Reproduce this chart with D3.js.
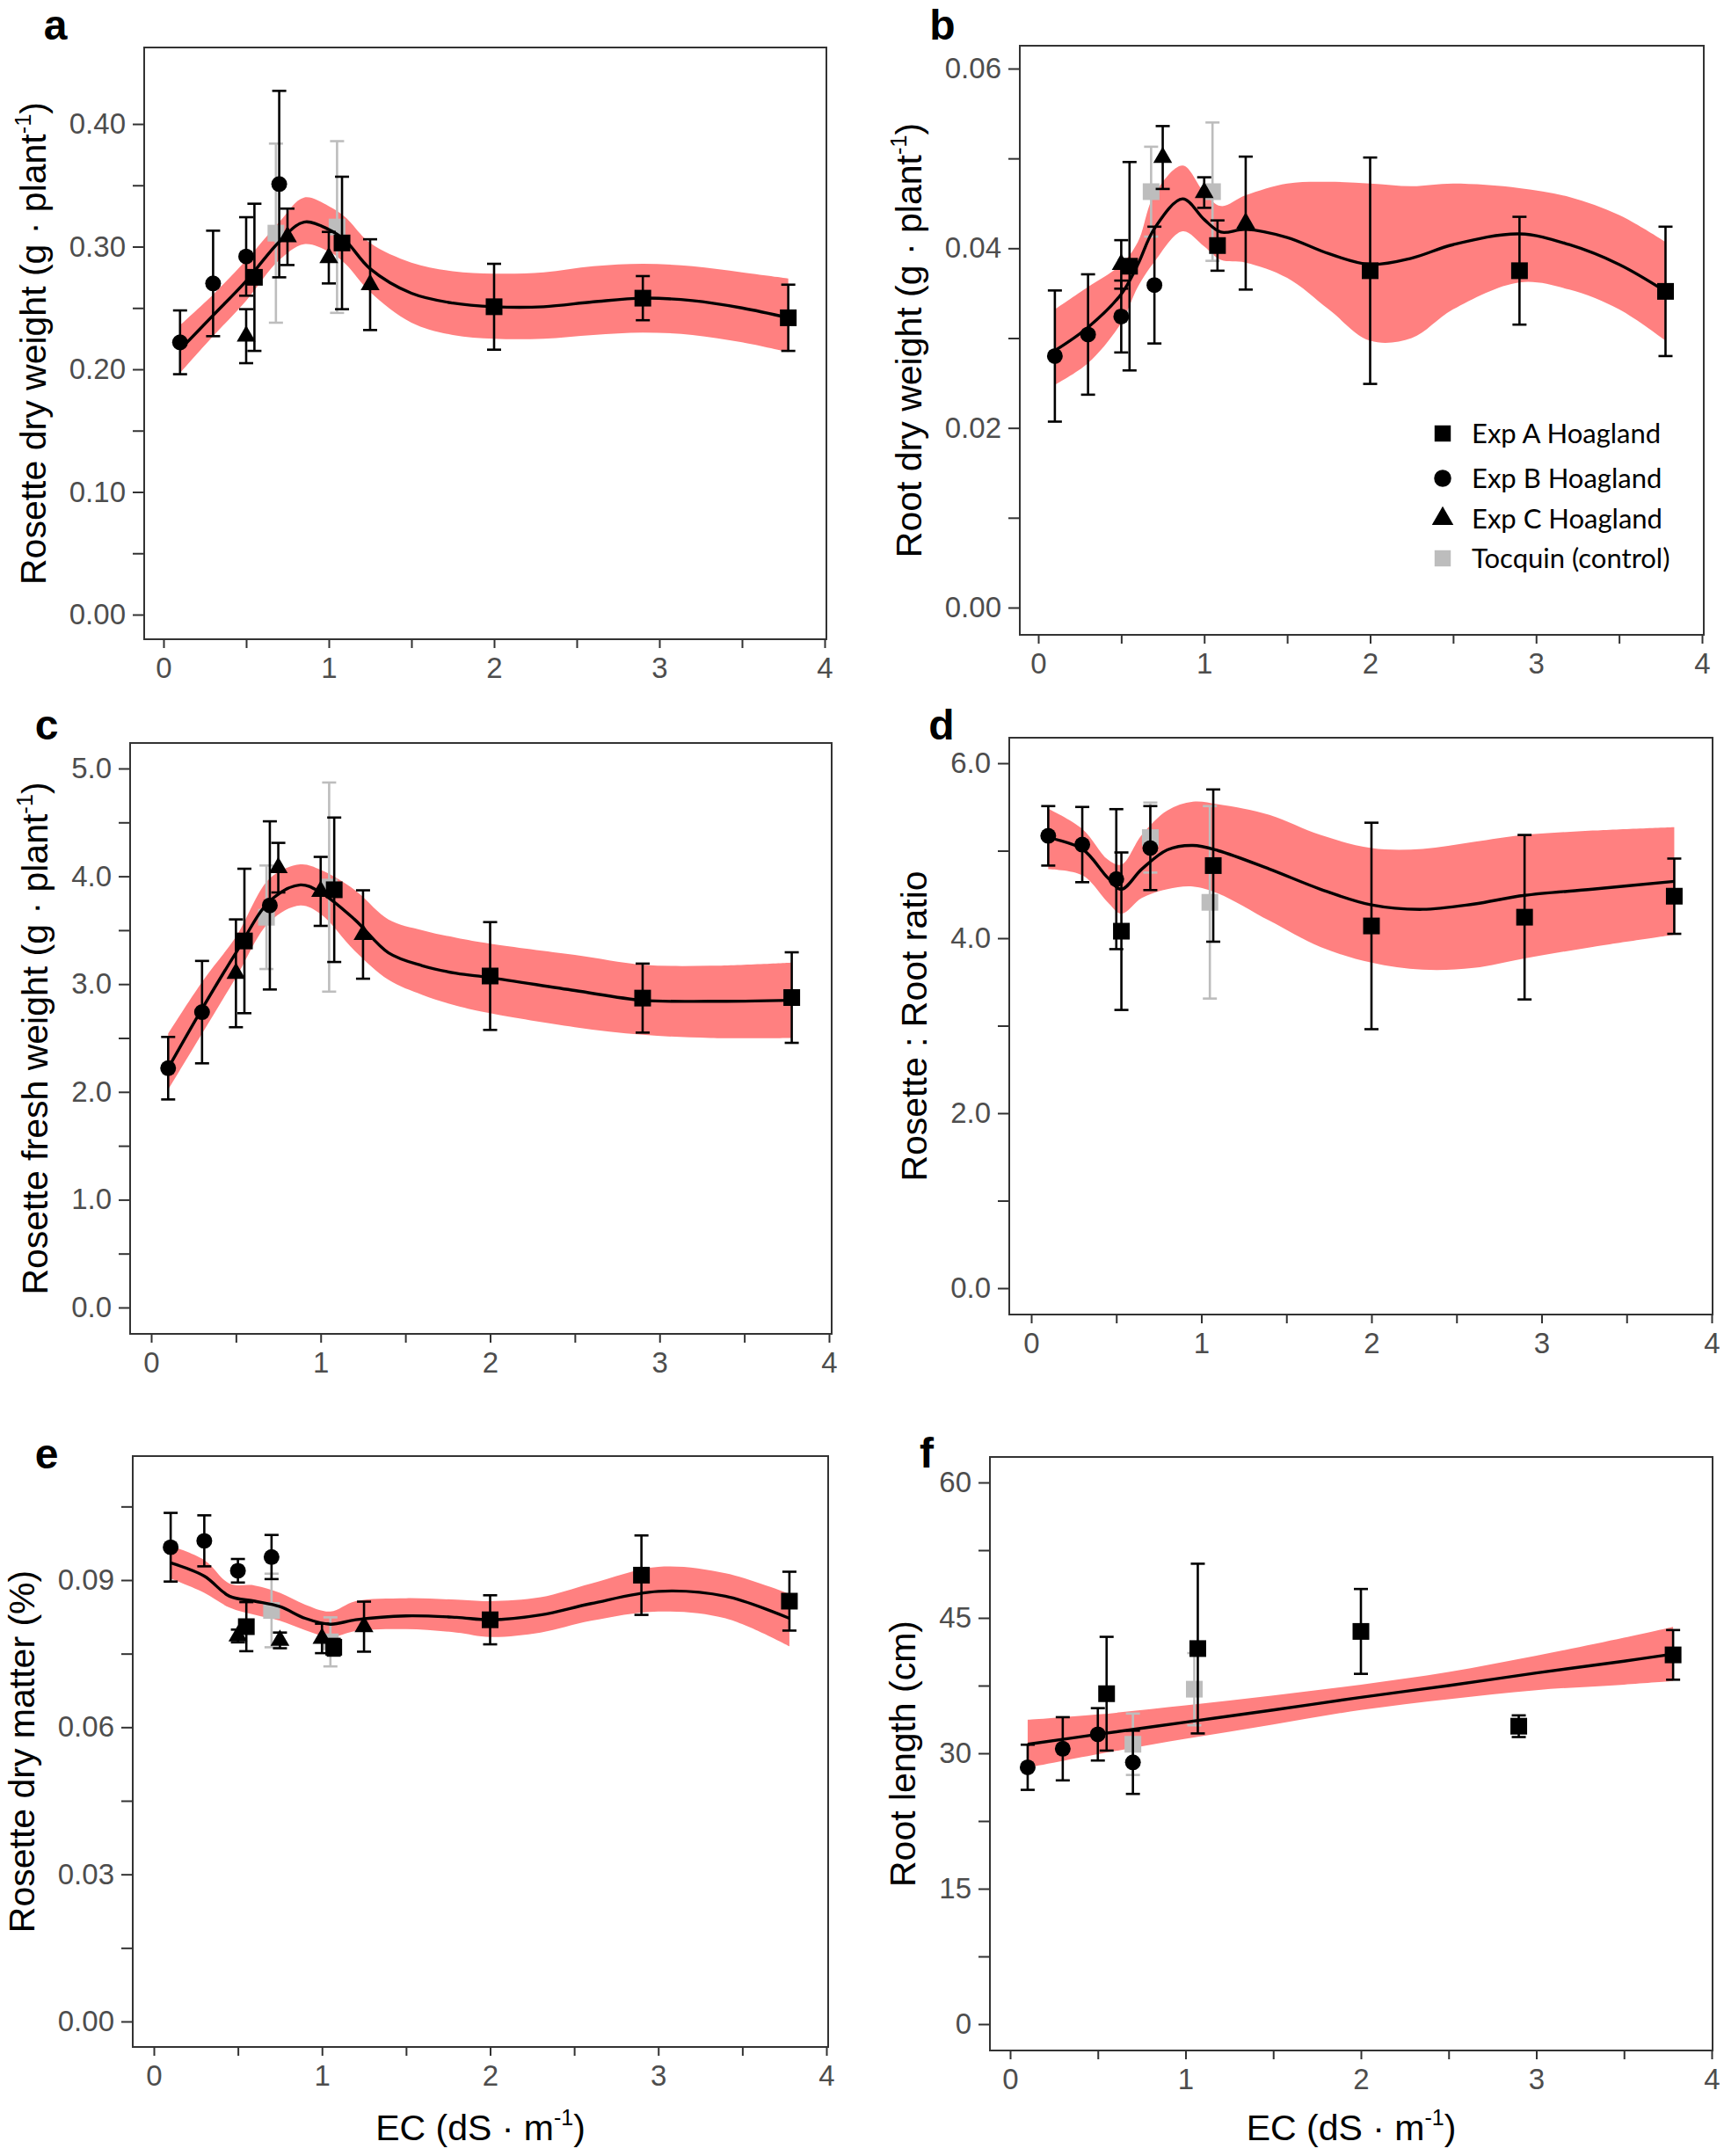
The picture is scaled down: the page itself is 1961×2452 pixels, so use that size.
<!DOCTYPE html>
<html><head><meta charset="utf-8">
<script src="https://cdn.jsdelivr.net/npm/d3@7"></script>
<style>body{margin:0;background:#fff}svg{display:block}</style>
</head><body>
<svg id="c" width="1961" height="2452"></svg>
<script>
// ---------- DATA: [EC, mean, error] ----------
// Panel a – Rosette dry weight
const aExpA = [[0.55,0.275,0.060],[1.08,0.303,0.054],[2.0,0.251,0.035],[2.9,0.258,0.018],[3.78,0.242,0.027]];
const aExpB = [[0.1,0.222,0.026],[0.3,0.270,0.043],[0.5,0.292,0.032],[0.7,0.351,0.076]];
const aExpC = [[0.5,0.227,0.022],[0.75,0.308,0.023],[1.0,0.291,0.021],[1.25,0.269,0.037]];
const aToc  = [[0.68,0.311,0.073],[1.05,0.316,0.070]];
const aFitX = [0.1,0.3,0.5,0.7,0.85,1.0,1.1,1.25,1.5,1.75,2.0,2.3,2.6,2.9,3.2,3.5,3.78];
const aFit  = [0.216,0.244,0.272,0.304,0.320,0.314,0.305,0.282,0.262,0.254,0.251,0.251,0.255,0.258,0.256,0.250,0.242];
const aLo   = [0.197,0.227,0.256,0.289,0.302,0.296,0.286,0.263,0.238,0.228,0.225,0.225,0.228,0.230,0.228,0.222,0.214];
const aHi   = [0.236,0.261,0.289,0.320,0.340,0.333,0.324,0.303,0.287,0.280,0.278,0.279,0.284,0.286,0.284,0.279,0.274];

// Panel b – Root dry weight
const bExpA = [[0.55,0.0380,0.0116],[1.08,0.0403,0.0028],[2.0,0.0375,0.0126],[2.9,0.0375,0.0060],[3.78,0.0352,0.0072]];
const bExpB = [[0.1,0.0280,0.0073],[0.3,0.0304,0.0067],[0.5,0.0324,0.0040],[0.7,0.0359,0.0065]];
const bExpC = [[0.5,0.0382,0.0027],[0.75,0.0501,0.0035],[1.0,0.0462,0.0017],[1.25,0.0428,0.0074]];
const bToc  = [[0.68,0.0463,0.0050],[1.05,0.0463,0.0077]];
const bFitX = [0.1,0.3,0.5,0.6,0.7,0.87,1.0,1.1,1.25,1.5,1.75,2.0,2.25,2.5,2.9,3.2,3.5,3.78];
const bFit  = [0.0286,0.0312,0.0349,0.0382,0.0422,0.0455,0.0432,0.0418,0.0421,0.0412,0.0394,0.0382,0.0389,0.0404,0.0416,0.0404,0.0382,0.0352];
const bLo   = [0.0248,0.0272,0.0317,0.0357,0.0385,0.0419,0.0402,0.0387,0.0384,0.0367,0.0332,0.0297,0.0300,0.0332,0.0362,0.0354,0.0332,0.0297];
const bHi   = [0.0332,0.0357,0.0382,0.0407,0.0460,0.0492,0.0462,0.0447,0.0459,0.0472,0.0474,0.0472,0.0469,0.0472,0.0467,0.0457,0.0437,0.0407];

// Panel c – Rosette fresh weight
const cExpA = [[0.55,3.40,0.67],[1.08,3.875,0.67],[2.0,3.075,0.50],[2.9,2.87,0.32],[3.78,2.875,0.42]];
const cExpB = [[0.1,2.22,0.29],[0.3,2.74,0.475],[0.7,3.73,0.78]];
const cExpC = [[0.5,3.10,0.50],[0.75,4.08,0.23],[1.0,3.86,0.32],[1.25,3.46,0.41]];
const cToc  = [[0.68,3.62,0.48],[1.05,3.90,0.97]];
const cFitX = [0.1,0.3,0.5,0.7,0.88,1.0,1.2,1.4,1.6,1.8,2.0,2.5,2.9,3.3,3.78];
const cFit  = [2.22,2.77,3.29,3.77,3.92,3.85,3.60,3.29,3.17,3.10,3.06,2.94,2.85,2.84,2.85];
const cLo   = [2.02,2.54,3.06,3.58,3.73,3.65,3.31,3.04,2.90,2.80,2.73,2.60,2.53,2.50,2.50];
const cHi   = [2.54,3.02,3.44,3.98,4.11,4.06,3.875,3.60,3.50,3.43,3.375,3.27,3.18,3.17,3.20];

// Panel d – Rosette : Root ratio
const dExpA = [[0.53,4.08,0.90],[1.07,4.83,0.87],[2.0,4.14,1.18],[2.9,4.24,0.94],[3.78,4.48,0.43]];
const dExpB = [[0.1,5.17,0.34],[0.3,5.07,0.43],[0.5,4.675,0.80],[0.7,5.03,0.48]];
const dExpC = [];
const dToc  = [[0.7,5.15,0.40],[1.05,4.41,1.10]];
const dFitX = [0.1,0.3,0.45,0.53,0.65,0.8,0.95,1.1,1.4,1.7,2.0,2.3,2.6,2.9,3.3,3.78];
const dFit  = [5.15,5.02,4.69,4.56,4.79,5.01,5.06,5.00,4.79,4.56,4.38,4.33,4.39,4.49,4.56,4.65];
const dLo   = [4.79,4.72,4.41,4.28,4.46,4.56,4.59,4.51,4.20,3.90,3.72,3.64,3.66,3.77,3.90,4.04];
const dHi   = [5.48,5.25,4.90,4.84,5.18,5.46,5.56,5.53,5.41,5.18,5.03,5.02,5.10,5.18,5.23,5.27];

// Panel e – Rosette dry matter
const eExpA = [[0.55,0.0805,0.0050],[1.07,0.0763,0.0017],[2.0,0.0819,0.0050],[2.9,0.0910,0.0081],[3.78,0.0857,0.0060]];
const eExpB = [[0.1,0.0967,0.0070],[0.3,0.0980,0.0052],[0.5,0.0919,0.0024],[0.7,0.0947,0.0045]];
const eExpC = [[0.5,0.0786,0.0013],[0.75,0.0777,0.0016],[1.0,0.0781,0.0030],[1.25,0.0805,0.0051]];
const eToc  = [[0.7,0.0838,0.0075],[1.05,0.0774,0.0050]];
const eFitX = [0.1,0.3,0.45,0.6,0.75,0.9,1.05,1.2,1.5,1.8,2.0,2.3,2.6,3.0,3.4,3.78];
const eFit  = [0.0935,0.0908,0.0867,0.0857,0.0846,0.0822,0.0810,0.0819,0.0827,0.0824,0.0819,0.0829,0.0852,0.0877,0.0867,0.0822];
const eLo   = [0.0903,0.0874,0.0844,0.0829,0.0817,0.0798,0.0784,0.0796,0.0800,0.0793,0.0784,0.0793,0.0817,0.0836,0.0822,0.0765];
const eHi   = [0.0970,0.0941,0.0893,0.0889,0.0874,0.0850,0.0836,0.0857,0.0863,0.0860,0.0857,0.0865,0.0893,0.0927,0.0914,0.0872];

// Panel f – Root length
const fExpA = [[0.55,36.6,6.3],[1.07,41.6,9.4],[2.0,43.5,4.7],[2.9,33.0,1.2],[3.78,40.9,2.75]];
const fExpB = [[0.1,28.45,2.5],[0.3,30.5,3.5],[0.5,32.1,2.9],[0.7,29.0,3.5]];
const fExpC = [];
const fToc  = [[0.7,31.0,3.4],[1.05,37.1,4.0]];
const fFitX = [0.1,0.5,1.0,1.5,2.0,2.5,3.0,3.5,3.78];
const fFit  = [31.0,32.1,33.45,34.8,36.2,37.5,38.9,40.2,41.0];
const fLo   = [28.4,29.9,31.6,33.2,34.8,36.0,37.0,37.6,38.0];
const fHi   = [33.7,34.3,35.3,36.4,37.6,39.0,40.8,42.8,44.0];

// Axis ticks
const xTickVals = [0,0.5,1,1.5,2,2.5,3,3.5,4];
const xTickLabels = [0,1,2,3,4];
const aYTicks = [0,0.05,0.10,0.15,0.20,0.25,0.30,0.35,0.40], aYLabels = [0,0.10,0.20,0.30,0.40];
const bYTicks = [0,0.01,0.02,0.03,0.04,0.05,0.06], bYLabels = [0,0.02,0.04,0.06];
const cYTicks = [0,0.5,1,1.5,2,2.5,3,3.5,4,4.5,5], cYLabels = [0,1,2,3,4,5];
const dYTicks = [0,1,2,3,4,5,6], dYLabels = [0,2,4,6];
const eYTicks = [0,0.015,0.03,0.045,0.06,0.075,0.09,0.105], eYLabels = [0,0.03,0.06,0.09];
const fYTicks = [0,7.5,15,22.5,30,37.5,45,52.5,60], fYLabels = [0,15,30,45,60];

const legendLabels = ["Exp A Hoagland","Exp B Hoagland","Exp C Hoagland","Tocquin (control)"];

// ---------- LAYOUT ----------
const panels = [
 {L:'a', A:aExpA,B:aExpB,C:aExpC,T:aToc, fx:aFitX,f:aFit,lo:aLo,hi:aHi, yt:aYTicks, yl:aYLabels, fmt:'.2f',
  box:[164,54,940,727], xr:[186,938], yd:[0,0.4], yr:[699,141], title:[['Rosette dry weight (g · plant',0],['-1',1],[')',0]], letter:[63,45]},
 {L:'b', A:bExpA,B:bExpB,C:bExpC,T:bToc, fx:bFitX,f:bFit,lo:bLo,hi:bHi, yt:bYTicks, yl:bYLabels, fmt:'.2f',
  box:[1160,52,1938,722], xr:[1181,1936], yd:[0,0.06], yr:[691,78], title:[['Root dry weight (g · plant',0],['-1',1],[')',0]], letter:[1072,45]},
 {L:'c', A:cExpA,B:cExpB,C:cExpC,T:cToc, fx:cFitX,f:cFit,lo:cLo,hi:cHi, yt:cYTicks, yl:cYLabels, fmt:'.1f',
  box:[148,845,946,1517], xr:[172,943], yd:[0,5], yr:[1487,874], title:[['Rosette fresh weight (g · plant',0],['-1',1],[')',0]], letter:[53,841]},
 {L:'d', A:dExpA,B:dExpB,C:dExpC,T:dToc, fx:dFitX,f:dFit,lo:dLo,hi:dHi, yt:dYTicks, yl:dYLabels, fmt:'.1f',
  box:[1148,839,1948,1495], xr:[1173,1947], yd:[0,6], yr:[1465,868], title:[['Rosette : Root ratio',0]], letter:[1071,841]},
 {L:'e', A:eExpA,B:eExpB,C:eExpC,T:eToc, fx:eFitX,f:eFit,lo:eLo,hi:eHi, yt:eYTicks, yl:eYLabels, fmt:'.2f',
  box:[151,1656,942,2328], xr:[175,940], yd:[0,0.09], yr:[2299,1797], title:[['Rosette dry matter (%)',0]], letter:[53,1670], xtitle:true},
 {L:'f', A:fExpA,B:fExpB,C:fExpC,T:fToc, fx:fFitX,f:fFit,lo:fLo,hi:fHi, yt:fYTicks, yl:fYLabels, fmt:'d',
  box:[1126,1657,1948,2332], xr:[1149,1947], yd:[0,60], yr:[2302,1686], title:[['Root length (cm)',0]], letter:[1054,1669], xtitle:true}
];

const FONT = "'Liberation Sans', Arial, Helvetica, sans-serif";
const BAND = "#ff8080", GREY = "#bdbdbd", TICKC = "#333333", LABC = "#4d4d4d";
const svg = d3.select('#c');
svg.append('rect').attr('width',1961).attr('height',2452).attr('fill','#fff');

const symSq = d3.symbol().type(d3.symbolSquare).size(361);
const symCi = d3.symbol().type(d3.symbolCircle).size(254);
const symTr = d3.symbol().type(d3.symbolTriangle).size(200);

function isIn(v, arr){ return arr.some(a => Math.abs(a - v) < 1e-9); }

function drawTitle(x, y, parts, size){
  const t = svg.append('text').attr('transform', `translate(${x},${y}) rotate(-90)`)
    .attr('text-anchor','middle').attr('font-family',FONT).attr('font-size',size).attr('fill','#000');
  let prevSup = false;
  parts.forEach(([s,sup]) => {
    const ts = t.append('tspan').text(s);
    if (sup){ ts.attr('font-size', size*0.62).attr('dy', -size*0.42); }
    else if (prevSup){ ts.attr('dy', size*0.42); }
    prevSup = !!sup;
  });
  return t;
}

panels.forEach(p => {
  const [x0,y0,x1,y1] = p.box;
  const x = d3.scaleLinear().domain([0,4]).range(p.xr);
  const y = d3.scaleLinear().domain(p.yd).range(p.yr);
  const g = svg.append('g');

  // ribbon
  const bandData = p.fx.map((v,i)=>({x:v, lo:p.lo[i], hi:p.hi[i], f:p.f[i]}));
  g.append('path').datum(bandData)
    .attr('d', d3.area().x(d=>x(d.x)).y0(d=>y(d.lo)).y1(d=>y(d.hi)).curve(d3.curveCatmullRom.alpha(0.5)))
    .attr('fill', BAND).attr('stroke','none');

  // error bars + points
  function series(data, color, sym){
    const gg = g.append('g');
    const cap = 8;
    data.forEach(d => {
      const [ex, m, e] = d;
      const X = x(ex), Yt = y(m+e), Yb = y(m-e);
      gg.append('line').attr('x1',X).attr('x2',X).attr('y1',Yt).attr('y2',Yb).attr('stroke',color).attr('stroke-width',2.6);
      gg.append('line').attr('x1',X-cap).attr('x2',X+cap).attr('y1',Yt).attr('y2',Yt).attr('stroke',color).attr('stroke-width',2.6);
      gg.append('line').attr('x1',X-cap).attr('x2',X+cap).attr('y1',Yb).attr('y2',Yb).attr('stroke',color).attr('stroke-width',2.6);
    });
    gg.selectAll('path.pt').data(data).join('path').attr('class','pt')
      .attr('transform', d=>`translate(${x(d[0])},${y(d[1])})`)
      .attr('d', sym()).attr('fill', color);
  }
  series(p.T, GREY, symSq);

  // fit line
  g.append('path').datum(bandData)
    .attr('d', d3.line().x(d=>x(d.x)).y(d=>y(d.f)).curve(d3.curveCatmullRom.alpha(0.5)))
    .attr('fill','none').attr('stroke','#000').attr('stroke-width',3.4);

  series(p.B, '#000', symCi);
  series(p.C, '#000', symTr);
  series(p.A, '#000', symSq);

  // frame
  svg.append('rect').attr('x',x0).attr('y',y0).attr('width',x1-x0).attr('height',y1-y0)
    .attr('fill','none').attr('stroke',TICKC).attr('stroke-width',2);

  // axes
  const gx = svg.append('g').attr('transform',`translate(0,${y1})`)
    .call(d3.axisBottom(x).tickValues(xTickVals).tickSize(10).tickPadding(11)
      .tickFormat(v => isIn(v, xTickLabels) ? d3.format('d')(v) : ''));
  const gy = svg.append('g').attr('transform',`translate(${x0},0)`)
    .call(d3.axisLeft(y).tickValues(p.yt).tickSize(13).tickPadding(8)
      .tickFormat(v => isIn(v, p.yl) ? d3.format(p.fmt)(v) : ''));
  [gx,gy].forEach(ax => {
    ax.select('.domain').remove();
    ax.selectAll('line').attr('stroke',TICKC).attr('stroke-width',2);
    ax.selectAll('text').attr('font-family',FONT).attr('font-size',33).attr('fill',LABC);
  });

  // y title
  const bb = gy.node().getBBox();
  const left = x0 + bb.x;
  drawTitle(left - 27, (y0+y1)/2, p.title, 41);

  // x title
  if (p.xtitle){
    const t = svg.append('text').attr('x',(x0+x1)/2).attr('y',2434).attr('text-anchor','middle')
      .attr('font-family',FONT).attr('font-size',41).attr('fill','#000');
    t.append('tspan').text('EC (dS · m');
    t.append('tspan').text('-1').attr('font-size',25).attr('dy',-17);
    t.append('tspan').text(')').attr('dy',17);
  }

  // panel letter
  svg.append('text').attr('x',p.letter[0]).attr('y',p.letter[1]).attr('text-anchor','middle')
    .attr('font-family',FONT).attr('font-weight','bold').attr('font-size',48).text(p.L);
});

// legend (panel b)
const legX = 1641, legTX = 1674, legY = [493,544,590,635];
const legSyms = [d3.symbol().type(d3.symbolSquare).size(340), d3.symbol().type(d3.symbolCircle).size(300),
                 d3.symbol().type(d3.symbolTriangle).size(260), d3.symbol().type(d3.symbolSquare).size(340)];
const legCols = ['#000','#000','#000',GREY];
const lg = svg.append('g');
legendLabels.forEach((lab,i) => {
  lg.append('path').attr('transform',`translate(${legX},${legY[i]})`).attr('d',legSyms[i]()).attr('fill',legCols[i]);
  lg.append('text').attr('x',legTX).attr('y',legY[i]).attr('dy','0.35em')
    .attr('font-family',"Lato, 'Open Sans', sans-serif").attr('font-size',31).attr('fill','#000').text(lab);
});
</script>
</body></html>
